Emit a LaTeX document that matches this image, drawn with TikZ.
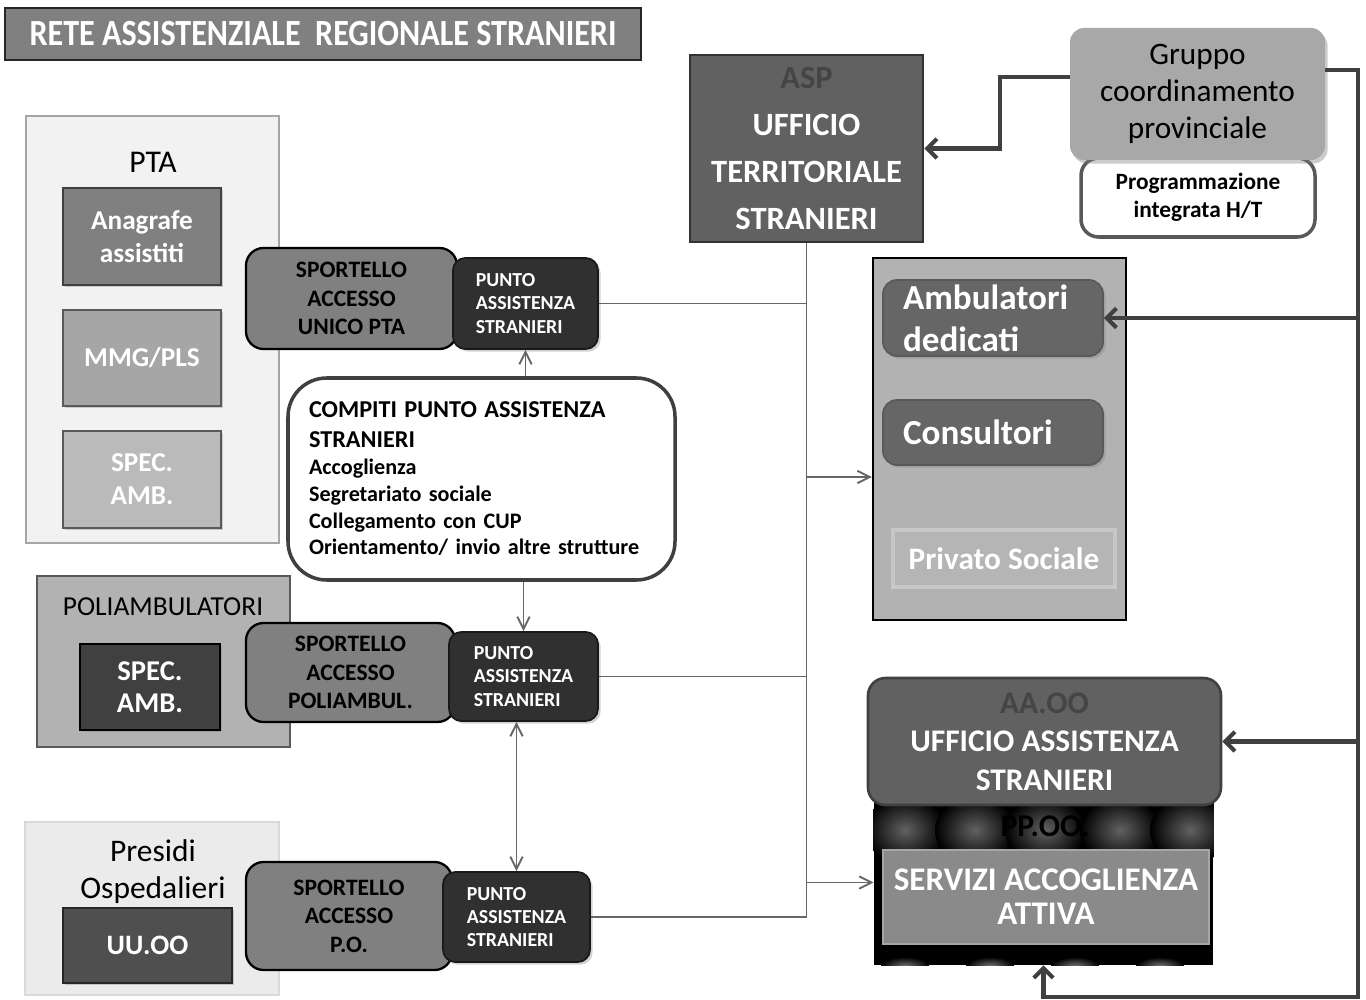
\documentclass[tikz,border=0pt]{standalone}
\usepackage{fontspec}
\setmainfont{Carlito}
\usetikzlibrary{arrows.meta,shadows}
\newcommand{\fsz}[2]{\fontsize{#1}{#2}\selectfont}
\begin{document}
\begin{tikzpicture}[x=0.02cm,y=-0.02cm,every node/.style={inner sep=0pt,align=center},
	span/.style n args={4}{at={({(#1+#3)/2},{(#2+#4)/2})},minimum width={(#3-#1)*0.02cm},minimum height={(#4-#2)*0.02cm}},
	panel/.style={line width=1.3pt},
	tile/.style={draw=black!75,line width=1.5pt,text=white,font=\bfseries\fsz{15.5}{18.7},drop shadow={opacity=0.35,shadow xshift=1pt,shadow yshift=-1pt}},
	sportello/.style={rounded corners=10pt,fill=black!50,draw=black,line width=1.3pt,font=\bfseries\fsz{13.4}{16.2}},
	punto/.style={rounded corners=7pt,fill=black!81,draw=black!90,line width=1pt,text=white,align=left,font=\bfseries\fsz{11.3}{13.2},drop shadow={opacity=0.35,shadow xshift=1.5pt,shadow yshift=-1.5pt}},
	service/.style={rounded corners=8pt,fill=black!60,draw=black!65,line width=1pt,text=white,align=left,text width=3.6cm,font=\bfseries\fsz{20}{24},drop shadow={opacity=0.35,shadow xshift=1.5pt,shadow yshift=-1.5pt}},
	link/.style={draw=black!60,line width=1.1pt},
	heavy/.style={draw=black!75,line width=2.3pt},
	thintip/.style={-{Straight Barb[length=7pt,width=7pt]}},
	heavytip/.style={-{Straight Barb[length=5.5pt,width=11pt]}}]
	\useasboundingbox (0,0) rectangle (1366,1000);
	\node[span={5}{8}{641}{60},fill=black!50,draw=black!85,line width=1.2pt,text=white,font=\bfseries\fsz{21}{24}] (title) {\scalebox{0.87}[1]{RETE ASSISTENZIALE\ \ REGIONALE STRANIERI}};
	\node[panel,span={26}{116}{279}{543},fill=black!5,draw=black!35] (pta) {};
	\node[font=\fsz{18}{21}] (ptalabel) at (153,162) {PTA};
	\node[tile,span={63}{188}{221}{285},fill=black!50] (anagrafe) {Anagrafe\\assistiti};
	\node[tile,span={63}{310}{221}{406},fill=black!35,draw=black!65] (mmg) {MMG/PLS};
	\node[tile,span={63}{431}{221}{528},fill=black!27,draw=black!65] (specpta) {SPEC.\\AMB.};
	\node[panel,span={37}{576}{290}{747},fill=black!30,draw=black!65] (poli) {};
	\node[font=\fsz{15.6}{18}] (polilabel) at (163,607) {POLIAMBULATORI};
	\node[tile,span={80}{644}{220}{730},fill=black!75,draw=black,font=\bfseries\fsz{16.3}{18}] (specpoli) {SPEC.\\AMB.};
	\node[panel,span={25}{822}{279}{995},fill=black!8,draw=black!15] (presidi) {};
	\node[font=\fsz{17.9}{21}] (presidilabel) at (153,872) {Presidi\\Ospedalieri};
	\node[tile,span={63}{908}{232}{983},fill=black!69,draw=black!85,font=\bfseries\fsz{16}{18}] (uuoo) {UU.OO};
	\node[sportello,span={246}{248}{457}{349}] (sport1) {SPORTELLO\\ACCESSO\\UNICO PTA};
	\node[sportello,span={246}{623}{455}{722}] (sport2) {SPORTELLO\\ACCESSO\\POLIAMBUL.};
	\node[sportello,span={246}{862}{452}{970}] (sport3) {SPORTELLO\\ACCESSO\\P.O.};
	\node[punto,span={453}{258}{598}{349}] (punto1) {PUNTO\\ASSISTENZA\\STRANIERI};
	\node[punto,span={449}{632}{598}{721}] (punto2) {PUNTO\\ASSISTENZA\\STRANIERI};
	\node[punto,span={443}{872}{590}{962}] (punto3) {PUNTO\\ASSISTENZA\\STRANIERI};
	\node[span={288}{378}{675}{580},rounded corners=22pt,fill=white,draw=black!75,line width=2pt,align=left,text width=6.9cm,font=\bfseries\fsz{12.6}{15.3}] (compiti) {{\fsz{13.8}{17}COMPITI PUNTO ASSISTENZA}\\[1.5pt]{\fsz{13.8}{17}STRANIERI}\\Accoglienza\\Segretariato sociale\\Collegamento con CUP\\Orientamento/ invio altre strutture};
	\node[span={690}{55}{923}{242},fill=black!62,draw=black!80,line width=1.5pt,text=white,font=\bfseries\fsz{18.5}{26.6}] (asp) {{\color{black!73}ASP}\\UFFICIO\\TERRITORIALE\\STRANIERI};
	\node[span={1081}{158}{1315}{237},rounded corners=10pt,fill=white,draw=black!65,line width=2pt,font=\bfseries\fsz{13.3}{16}] (programma) {Programmazione\\integrata H/T};
	\node[span={1070}{28}{1325}{160},rounded corners=8pt,fill=black!34,font=\fsz{17.8}{21},drop shadow={opacity=0.4,shadow xshift=1.5pt,shadow yshift=-2pt}] (gruppo) {Gruppo\\coordinamento\\provinciale};
	\node[panel,span={873}{258}{1126}{620},fill=black!30,draw=black] (amb) {};
	\node[service,span={883}{280}{1103}{356}] (ambded) {Ambulatori\\dedicati};
	\node[service,span={883}{400}{1103}{465}] (consultori) {Consultori};
	\node[span={893}{530}{1115}{587},fill=black!29,draw=black!22,line width=2pt,text=white,font=\bfseries\fsz{17.8}{20}] (privato) {Privato Sociale};
	\node[span={874}{800}{1213}{965},fill=black] (pp) {};
	\begin{scope}
		\clip (pp.north west) rectangle (pp.south east);
		\foreach \cx in {905,975,1045,1120,1190}
			\shade[inner color=black!62,outer color=black] (\cx,830) ellipse (40 and 34);
		\foreach \cx in {905,990,1075,1160}
			\shade[inner color=black!55,outer color=black] (\cx,966) ellipse (24 and 9);
	\end{scope}
	\node[font=\bfseries\fsz{18}{20}] (pplabel) at (1045,826) {PP.OO.};
	\node[span={883}{850}{1209}{944},fill=black!46,draw=black!35,line width=1.5pt,text=white,font=\bfseries\fsz{18.8}{19.5}] (servizi) {SERVIZI ACCOGLIENZA\\ATTIVA};
	\node[span={868}{678}{1221}{805},rounded corners=10pt,fill=black!62,draw=black!75,line width=1.5pt,text=white,font=\bfseries\fsz{17.9}{22}] (aaoo) {{\color{black!73}AA.OO}\\UFFICIO ASSISTENZA\\STRANIERI};
	\coordinate (ambin) at (807,477);
	\coordinate (gbend) at (1000,77);
	\coordinate (rtop) at (1358,70);
	\coordinate (rbot) at (1358,997);
	\draw[link] (asp.south) -- (asp.south |- punto3.east);
	\draw[link] (punto1.east) -- (punto1.east -| asp.south);
	\draw[link] (punto2.east) -- (punto2.east -| asp.south);
	\draw[link] (punto3.east) -- (punto3.east -| asp.south);
	\draw[link,thintip] (ambin) -- (ambin -| amb.west);
	\draw[link,thintip] (asp.south |- pp.west) -- (pp.west);
	\draw[link,thintip] (punto1.south |- compiti.north) -- (punto1.south);
	\draw[link,thintip] (punto2.north |- compiti.south) -- (punto2.north);
	\draw[link,{Straight Barb[length=7pt,width=7pt]}-{Straight Barb[length=7pt,width=7pt]}] (punto3.north |- punto2.south) -- (punto3.north);
	\draw[heavy,heavytip] (gbend -| gruppo.west) -- (gbend) |- (asp.east);
	\draw[heavy,heavytip] (rtop -| gruppo.east) -- (rtop) -- (rbot) -| (pp.south);
	\draw[heavy,heavytip] (rtop |- ambded.east) -- (ambded.east);
	\draw[heavy,heavytip] (rtop |- aaoo.east) -- (aaoo.east);
\end{tikzpicture}
\end{document}
